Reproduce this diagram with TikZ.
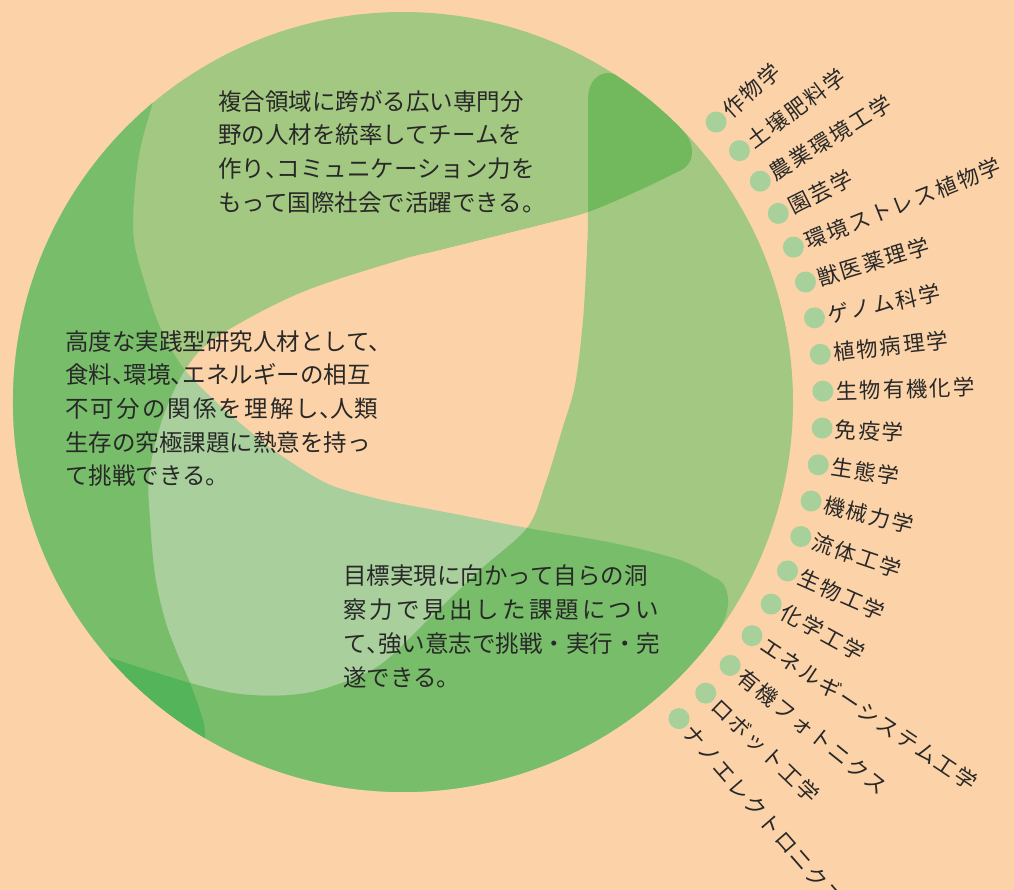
\documentclass[tikz,border=0pt]{standalone}
\usepackage{fontspec}
\newfontfamily\jpfont{Noto Sans CJK JP}
\newfontfamily\jpwidefont[LetterSpace=9]{Noto Sans CJK JP}
\newfontfamily\jpwiderfont[LetterSpace=13]{Noto Sans CJK JP}
\newfontfamily\jplabelfont[LetterSpace=9]{Noto Sans CJK JP}
\newcommand{\jpcomma}{\makebox[0.5em][l]{、}}

\begin{document}
\begin{tikzpicture}[x=1pt,y=1pt]
  % Define colors (background, the three leaves and their overlaps)
  \definecolor{peach}{RGB}{252,211,168}
  \definecolor{leafLight}{RGB}{163,200,130}
  \definecolor{leafPale}{RGB}{168,207,156}
  \definecolor{leafMid}{RGB}{120,189,106}
  \definecolor{leafTip}{RGB}{114,185,93}
  \definecolor{leafDeep}{RGB}{83,180,90}
  \definecolor{dotgreen}{RGB}{168,208,155}
  \definecolor{inkgray}{RGB}{40,40,40}

  \tikzset{
    bodytext/.style={anchor=north west, inner sep=0pt, align=left, text=inkgray,
      font=\jpfont\fontsize{23.5}{33.7}\selectfont},
    labeltext/.style={anchor=west, inner sep=0pt, text=inkgray,
      font=\jplabelfont\fontsize{21.5}{24}\selectfont},
    dotmark/.style={circle, fill=dotgreen, inner sep=0pt, minimum size=21pt}
  }

  % Outline of each leaf (big circle: centre (403,488), radius 390)
  \def\leaftop{([shift={(403,488)}]239.5:390) arc[start angle=239.5,end angle=45,radius=390]
    .. controls (686,756) and (692,750) .. (692,738) .. controls (692,726) and (684,720) .. (673,716)
    -- plot[smooth,tension=0.55] coordinates {(673,716) (640,700) (588,678) (540,665) (440,640)
      (400,630) (300,597) (217,553) (185,520) (162,470) (149,415) (150,370) (155,315)
      (165,270) (177,237) (190,207) (203,170) (205.1,152)} -- cycle}
  \def\leafright{([shift={(403,488)}]220.9:390) arc[start angle=220.9,end angle=417,radius=390]
    .. controls (606,820.5) and (589,815) .. (588,792)
    -- plot[smooth,tension=0.55] coordinates {(588,792) (588,678) (587,640) (583,570) (575,505)
      (562,460) (545,405) (527,362) (480,320) (430,272) (380,225) (330,203) (290,195)
      (240,196) (190,207) (108.2,232.7)} -- cycle}
  \def\leafbottom{([shift={(403,488)}]129.9:390) arc[start angle=129.9,end angle=323.7,radius=390]
    .. controls (724,266) and (731,284) .. (727,298) .. controls (724,308) and (719,311) .. (713,313)
    -- plot[smooth,tension=0.55] coordinates {(713,313) (680,330) (613,347) (527,362) (450,377)
      (383,390) (333,404) (300,422) (267,445) (225,480) (185,520) (160,563) (143,613)
      (134,650) (134,690) (140,740) (152.9,787.2)} -- cycle}

  % Background
  \useasboundingbox (0,0) rectangle (1014,890);
  \fill[peach] (0,0) rectangle (1014,890);

  % Draw the three leaves
  \fill[leafLight] \leaftop;
  \fill[leafLight] \leafright;
  \fill[leafPale] \leafbottom;

  % Overlaps
  \begin{scope}
    \clip \leaftop;
    \fill[leafMid] \leafbottom;
    \fill[leafTip] \leafright;
  \end{scope}
  \begin{scope}
    \clip \leafright;
    \fill[leafMid] \leafbottom;
  \end{scope}
  \begin{scope}
    \clip \leaftop;
    \clip \leafright;
    \fill[leafDeep] \leafbottom;
  \end{scope}

  % Add texts
  \node[bodytext] (skillTop) at (218,800)
    {複合領域に跨がる広い専門分\\野の人材を統率してチームを\\作り\jpcomma コミュニケーション力を\\もって国際社会で活躍できる。};
  \node[bodytext] (skillLeft) at (65,560)
    {高度な実践型研究人材として、\\食料\jpcomma 環境\jpcomma エネルギーの相互\\{\jpwidefont\fontsize{23.5}{33.7}\selectfont 不可分の関係を理解し}\jpcomma 人類\\生存の究極課題に熱意を持っ\\て挑戦できる。};
  \node[bodytext] (skillBottom) at (343,325)
    {目標実現に向かって自らの洞\\{\jpwiderfont\fontsize{23.5}{33.7}\selectfont 察力で見出した課題につい}\\て\jpcomma 強い意志で挑戦・実行・完\\遂できる。};

  % Add the fields round the circle
  \foreach \name [count=\i] in {作物学,土壌肥料学,農業環境工学,園芸学,環境ストレス植物学,
      獣医薬理学,ゲノム科学,植物病理学,生物有機化学,免疫学,生態学,機械力学,流体工学,
      生物工学,化学工学,エネルギーシステム工学,有機フォトニクス,ロボット工学,ナノエレクトロニクス}{
    \pgfmathsetmacro{\ang}{41.8-5.04*(\i-1)}
    \node[dotmark] (dot\i) at ([shift={(403,488)}]\ang:420) {};
    \node[labeltext, rotate=\ang] (lab\i) at ([shift={(403,488)}]\ang:433) {\name};
  }
\end{tikzpicture}
\end{document}
